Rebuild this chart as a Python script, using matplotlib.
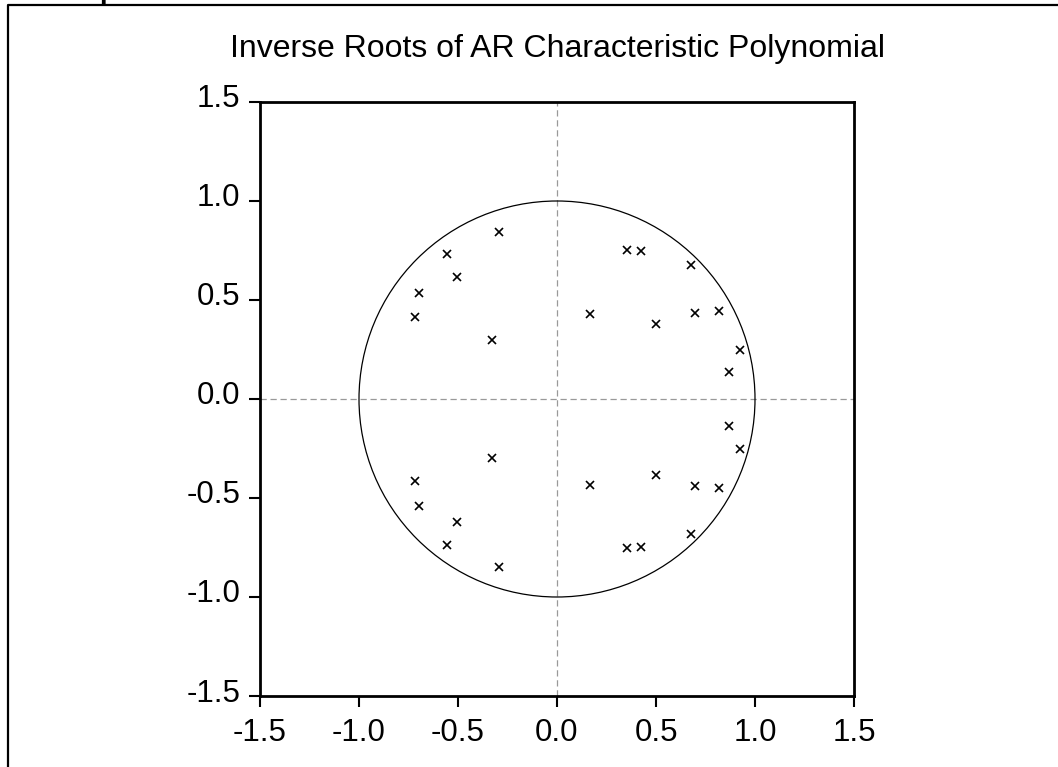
import matplotlib
matplotlib.use("Agg")
import matplotlib.pyplot as plt
import matplotlib.transforms as mtransforms
from matplotlib.lines import Line2D
from matplotlib.patches import Circle

plt.rcParams['font.family'] = ['Liberation Sans', 'DejaVu Sans']

title = "Inverse Roots of AR Characteristic Polynomial"
ticks = [-1.5, -1.0, -0.5, 0.0, 0.5, 1.0, 1.5]
tick_labels = ["-1.5", "-1.0", "-0.5", "0.0", "0.5", "1.0", "1.5"]

# inverse roots: real and imaginary parts
re_parts = [-0.293, -0.558, -0.504, -0.697, -0.717, -0.327,
            0.354, 0.426, 0.675, 0.166, 0.499, 0.695, 0.816, 0.924, 0.870,
            -0.293, -0.558, -0.504, -0.697, -0.717, -0.327,
            0.354, 0.426, 0.675, 0.166, 0.499, 0.695, 0.816, 0.924, 0.870]
im_parts = [0.844, 0.731, 0.618, 0.535, 0.415, 0.296,
            0.753, 0.748, 0.679, 0.428, 0.381, 0.433, 0.442, 0.247, 0.134,
            -0.846, -0.736, -0.619, -0.540, -0.416, -0.300,
            -0.755, -0.750, -0.684, -0.433, -0.384, -0.437, -0.448, -0.252, -0.137]

W, H = 1058, 767
fig = plt.figure(figsize=(W / 100, H / 100), dpi=100)

# outer frame (partially cropped)
fig.add_artist(Line2D([8 / W, 8 / W, 1.0], [0.0, 1 - 5 / H, 1 - 5 / H],
                      transform=fig.transFigure, color='black', lw=1.6))
fig.text(99 / W, 1 + 1 / H, "p", fontsize=20, fontweight='bold',
         ha='left', va='baseline')

ax = fig.add_axes([260 / W, 1 - 696 / H, 594 / W, 594 / H])
ax.set_xlim(-1.5, 1.5)
ax.set_ylim(-1.5, 1.5)

ax.axhline(0, color='#999999', lw=0.9, ls=(0, (5, 3)), zorder=1)
ax.axvline(0, color='#999999', lw=0.9, ls=(0, (5, 3)), zorder=1)
ax.add_patch(Circle((0, 0), 1.0, fill=False, edgecolor='black', lw=0.9, zorder=2))
ax.plot(re_parts, im_parts, ls='none', marker='x', color='black',
        markersize=5.5, markeredgewidth=1.2, zorder=3)

ax.set_xticks(ticks)
ax.set_xticklabels(tick_labels)
ax.set_yticks(ticks)
ax.set_yticklabels(tick_labels)
ax.tick_params(axis='both', direction='out', length=8, width=1.5,
               labelsize=22.5, colors='black')
ax.tick_params(axis='y', pad=6)
ax.tick_params(axis='x', pad=8)
ax.tick_params(top=False, right=False)
for s in ax.spines.values():
    s.set_linewidth(2)
    s.set_color('black')

# y tick labels sit slightly above their ticks in the reference
offset = mtransforms.ScaledTranslation(0, 6 / 100, fig.dpi_scale_trans)
for lab in ax.get_yticklabels():
    lab.set_transform(lab.get_transform() + offset)

fig.text(558 / W, 1 - 57 / H, title, fontsize=23, ha='center', va='baseline')

fig.savefig("out.png", dpi=100)
